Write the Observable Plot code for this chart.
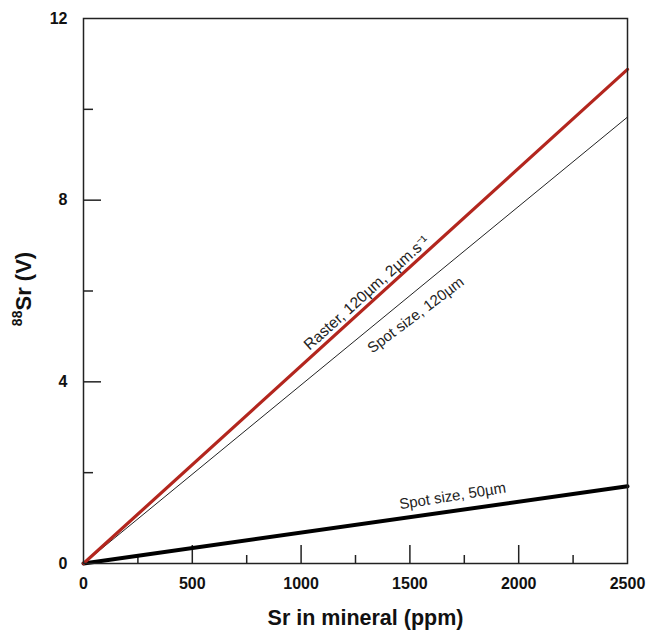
<!DOCTYPE html>
<html>
<head>
<meta charset="utf-8">
<script src="https://cdn.jsdelivr.net/npm/d3@7"></script>
<script src="https://cdn.jsdelivr.net/npm/@observablehq/plot@0.6"></script>
<style>
  html, body { margin: 0; padding: 0; background: #fff; }
  #chart { width: 649px; height: 633px; }
</style>
</head>
<body>
<div id="chart"></div>
<script>
// Data
const srPpm = [0, 2500];
const raster120 = [0, 10.88];
const spot120 = [0, 9.83];
const spot50 = [0, 1.70];

const xMajorTicks = [0, 500, 1000, 1500, 2000, 2500];
const xMinorTicks = [250, 750, 1250, 1750, 2250];
const yMajorTicks = [0, 4, 8, 12];
const yMinorTicks = [2, 6, 10];

const rasterLabel = [{name: "Raster, 120µm, 2µm.s⁻¹", x: 1330, y: 5.79}];
const spot120Label = [{name: "Spot size, 120µm", x: 1540, y: 5.32}];
const spot50Label = [{name: "Spot size, 50µm", x: 1700, y: 1.16}];

const rows = (ys) => srPpm.map((x, i) => ({x, y: ys[i]}));

const W = 649, H = 633;
const mL = 83, mT = 18, mR = 22, mB = 70;
const innerW = W - mL - mR, innerH = H - mT - mB;

const chart = Plot.plot({
  width: W,
  height: H,
  marginLeft: mL,
  marginTop: mT,
  marginRight: mR,
  marginBottom: mB,
  style: {fontFamily: "Liberation Sans, Arial, sans-serif", color: "#111", background: "#fff"},
  x: {domain: [0, 2500]},
  y: {domain: [0, 12]},
  marks: [
    // inward ticks
    Plot.ruleX(xMajorTicks.slice(1, -1), {x: d => d, insetTop: innerH - 18, stroke: "#222", strokeWidth: 1.5}),
    Plot.ruleX(xMinorTicks, {x: d => d, insetTop: innerH - 8, stroke: "#222", strokeWidth: 1.5}),
    Plot.ruleY(yMajorTicks.slice(1, -1), {y: d => d, insetRight: innerW - 18, stroke: "#222", strokeWidth: 1.5}),
    Plot.ruleY(yMinorTicks, {y: d => d, insetRight: innerW - 10, stroke: "#222", strokeWidth: 1.5}),
    Plot.axisX({ticks: xMajorTicks, tickSize: 0, tickPadding: 14, fontSize: 16, fontWeight: "bold", label: null, tickFormat: d => String(d)}),
    Plot.axisY({ticks: yMajorTicks, tickSize: 0, tickPadding: 16, fontSize: 16, fontWeight: "bold", label: null, tickFormat: d => String(d)}),
    // series
    Plot.line(rows(spot120), {x: "x", y: "y", stroke: "#222", strokeWidth: 1}),
    Plot.line(rows(spot50), {x: "x", y: "y", stroke: "#000", strokeWidth: 4}),
    Plot.line(rows(raster120), {x: "x", y: "y", stroke: "#b3261e", strokeWidth: 3.2}),
    Plot.frame({stroke: "#222", strokeWidth: 1.5}),
    // series labels
    Plot.text(rasterLabel, {x: "x", y: "y", text: "name", rotate: -42, dx: -3, dy: -4, lineAnchor: "bottom", textAnchor: "middle", fontSize: 15.5, fill: "#222"}),
    Plot.text(spot120Label, {x: "x", y: "y", text: "name", rotate: -37, dy: -3, lineAnchor: "bottom", textAnchor: "middle", fontSize: 15, fill: "#222"}),
    Plot.text(spot50Label, {x: "x", y: "y", text: "name", rotate: -9, dy: -10, lineAnchor: "bottom", textAnchor: "middle", fontSize: 15, fill: "#222"}),
    // axis titles
    Plot.text(["Sr in mineral (ppm)"], {frameAnchor: "bottom", textAnchor: "middle", dx: 10, dy: 55, fontSize: 21.5, fontWeight: "bold", lineAnchor: "middle", letterSpacing: "0.5px"}),
    Plot.text(["88Sr (V)"], {frameAnchor: "left", textAnchor: "middle", dx: -63, dy: -2, rotate: -90, fontSize: 22, fontWeight: "bold", lineAnchor: "middle", letterSpacing: "1px"})
  ]
});

document.getElementById("chart").appendChild(chart);

// superscript the isotope mass number in the y-axis title
d3.select(chart).selectAll("text").each(function() {
  const t = d3.select(this);
  if (t.text() === "88Sr (V)") {
    t.text(null);
    t.append("tspan").attr("font-size", 14).attr("dy", "-0.4em").text("88");
    t.append("tspan").attr("dy", "0.4em").text("Sr (V)");
  }
});
</script>
</body>
</html>
